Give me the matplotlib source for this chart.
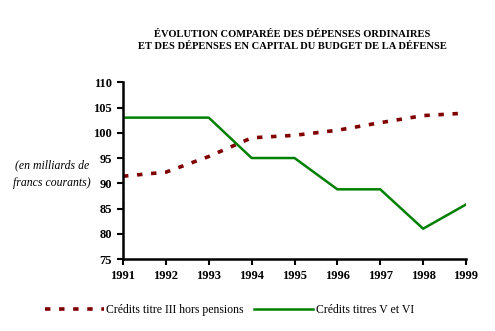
import matplotlib
matplotlib.use("Agg")
import matplotlib.pyplot as plt

years = [1991, 1992, 1993, 1994, 1995, 1996, 1997, 1998, 1999]
titre_iii = [91.4, 92.2, 95.3, 99.0, 99.5, 100.5, 102.0, 103.4, 103.9]
titres_v_vi = [103.0, 103.0, 103.0, 95.0, 95.0, 88.8, 88.8, 81.0, 85.8]
y_ticks = [75, 80, 85, 90, 95, 100, 105, 110]

plt.rcParams["font.family"] = ["Liberation Serif", "DejaVu Serif"]

fig = plt.figure(figsize=(4.95, 3.31), dpi=100)
ax = fig.add_axes([0.2485, 0.2175, 0.6929, 0.5339])

ax.plot(years, titre_iii, color="#800000", lw=2.6, dashes=(1.5, 2.4),
        label="Crédits titre III hors pensions")
ax.plot(years, titres_v_vi, color="#008000", lw=1.8,
        label="Crédits titres V et VI")

ax.set_xlim(1991, 1999)
ax.set_ylim(75, 110)
ax.set_xticks(years)
ax.set_yticks(y_ticks)
ax.set_xticklabels([str(y) for y in years], fontweight="bold", fontsize=9)
ax.set_yticklabels([str(v) for v in y_ticks], fontweight="bold", fontsize=9)
ax.tick_params(direction="out", length=4, width=1.5, pad=4, color="black")
for side in ("top", "right"):
    ax.spines[side].set_visible(False)
for side in ("left", "bottom"):
    ax.spines[side].set_linewidth(1.8)

fig.text(0.59, 0.877,
         "ÉVOLUTION COMPARÉE DES DÉPENSES ORDINAIRES\n"
         "ET DES DÉPENSES EN CAPITAL DU BUDGET DE LA DÉFENSE",
         ha="center", va="center", fontsize=7.6, fontweight="bold",
         linespacing=1.45)

fig.text(0.105, 0.474, "(en milliards de\nfrancs courants)",
         ha="center", va="center", fontsize=8.5, style="italic",
         linespacing=1.6)

fig.legend(loc="center", bbox_to_anchor=(0.463, 0.063), ncol=2,
           frameon=False, fontsize=8.5, handlelength=5.0, handletextpad=0.2,
           columnspacing=0.9)

fig.savefig("out.png", dpi=100)
